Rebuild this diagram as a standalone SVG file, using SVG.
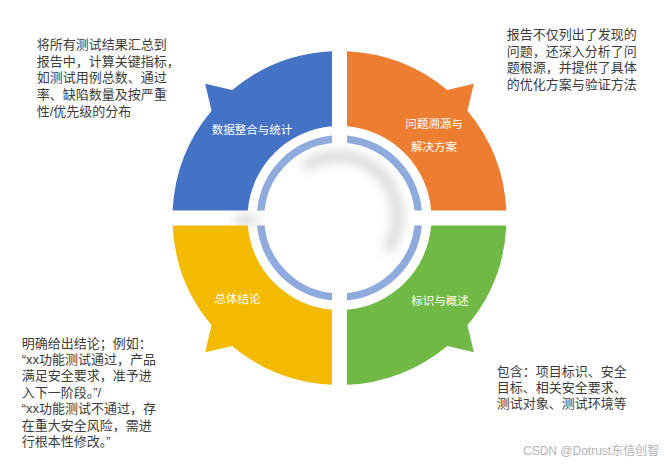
<svg xmlns="http://www.w3.org/2000/svg" width="669" height="465" viewBox="0 0 669 465">
<style>
.note{font-family:"Liberation Sans","Noto Sans CJK SC",sans-serif;font-size:13px;fill:#3c3c3c}
.lbl{font-family:"Noto Sans CJK SC",sans-serif;font-size:11.5px;fill:#ffffff;text-anchor:middle}
.wm{font-family:"Liberation Sans","Noto Sans CJK SC",sans-serif;font-size:12px;fill:#b4b4b4}
</style>
<defs>
<filter id="blur" x="-50%" y="-50%" width="200%" height="200%"><feGaussianBlur stdDeviation="6"/></filter>
<clipPath id="quads">
<rect x="0" y="0" width="332" height="210.5"/>
<rect x="347" y="0" width="322" height="210.5"/>
<rect x="0" y="225.5" width="332" height="240"/>
<rect x="347" y="225.5" width="322" height="240"/>
</clipPath>
</defs>
<rect width="669" height="465" fill="#ffffff"/>
<g id="shadow" filter="url(#blur)" opacity="0.38">
<path d="M303.6 166.9 A60 60 0 0 1 387.1 250.4" fill="none" stroke="#7a7a7a" stroke-width="8"/>
<ellipse cx="246" cy="220" rx="12" ry="5" fill="#8a8a8a"/>
</g>
<g id="ring">
<circle cx="339.5" cy="218" r="79" fill="none" stroke="#8FAADC" stroke-width="7.5" clip-path="url(#quads)"/>
</g>
<g id="node-data">
<path d="M172.67 210.5 A167 167 0 0 1 211.57 110.65 L205.15 83.65 L232.15 90.07 A167 167 0 0 1 332 51.17 L332 126.31 A92 92 0 0 0 247.81 210.5 Z" fill="#4472C4"/>
<text class="lbl" x="252" y="134">数据整合与统计</text>
</g>
<g id="node-problem">
<path d="M347 51.17 A167 167 0 0 1 447.35 90.07 L473.85 83.65 L467.43 110.65 A167 167 0 0 1 506.33 210.5 L431.19 210.5 A92 92 0 0 0 347 126.31 Z" fill="#ED7D31"/>
<text class="lbl" x="434" y="128">问题溯源与</text>
<text class="lbl" x="434" y="151">解决方案</text>
</g>
<g id="node-conclusion">
<path d="M332 384.83 A167 167 0 0 1 232.15 345.93 L205.15 352.35 L211.57 325.35 A167 167 0 0 1 172.67 225.5 L247.81 225.5 A92 92 0 0 0 332 309.69 Z" fill="#F2BA00"/>
<text class="lbl" x="237.5" y="303">总体结论</text>
</g>
<g id="node-identity">
<path d="M506.33 225.5 A167 167 0 0 1 467.43 325.35 L473.85 352.35 L447.35 345.93 A167 167 0 0 1 347 384.83 L347 309.69 A92 92 0 0 0 431.19 225.5 Z" fill="#70B944"/>
<text class="lbl" x="440" y="305">标识与概述</text>
</g>
<g id="note-data">
<text class="note" x="36.7" y="49">将所有测试结果汇总到</text>
<text class="note" x="36.7" y="65.7">报告中，计算关键指标，</text>
<text class="note" x="36.7" y="82.3">如测试用例总数、通过</text>
<text class="note" x="36.7" y="99">率、缺陷数量及按严重</text>
<text class="note" x="36.7" y="115.7">性/优先级的分布</text>
</g>
<g id="note-problem">
<text class="note" x="506.7" y="39">报告不仅列出了发现的</text>
<text class="note" x="506.7" y="55.7">问题，还深入分析了问</text>
<text class="note" x="506.7" y="72.3">题根源，并提供了具体</text>
<text class="note" x="506.7" y="89">的优化方案与验证方法</text>
</g>
<g id="note-conclusion">
<text class="note" x="21.7" y="347.5">明确给出结论；例如：</text>
<text class="note" x="21.7" y="364">“xx功能测试通过，产品</text>
<text class="note" x="21.7" y="380.4">满足安全要求，准予进</text>
<text class="note" x="21.7" y="396.8">入下一阶段。”/</text>
<text class="note" x="21.7" y="413.2">“xx功能测试不通过，存</text>
<text class="note" x="21.7" y="429.6">在重大安全风险，需进</text>
<text class="note" x="21.7" y="446">行根本性修改。”</text>
</g>
<g id="note-identity">
<text class="note" x="496.7" y="375.5">包含：项目标识、安全</text>
<text class="note" x="496.7" y="392">目标、相关安全要求、</text>
<text class="note" x="496.7" y="408.3">测试对象、测试环境等</text>
</g>
<text class="wm" x="523" y="455">CSDN @Dotrust东信创智</text>
</svg>
